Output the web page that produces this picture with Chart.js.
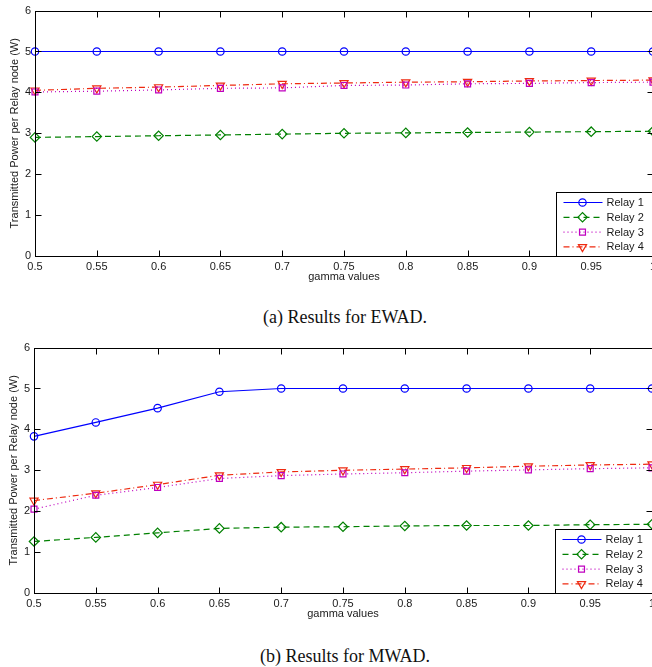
<!DOCTYPE html>
<html>
<head>
<meta charset="utf-8">
<script src="https://cdn.jsdelivr.net/npm/chart.js@4.4.1/dist/chart.umd.min.js"></script>
<style>
  html, body { margin: 0; padding: 0; background: #fff; overflow: hidden; width: 652px; height: 667px; }
  .panel { position: absolute; left: 0; width: 700px; height: 300px; }
  .caption { position: absolute; left: 0; width: 690px; text-align: center;
    font-family: "Liberation Serif", "Times New Roman", serif; font-size: 18px; line-height: 20px; color: #111; }
</style>
</head>
<body>
<div class="panel" style="top:0"><canvas id="ewadChart"></canvas></div>
<div class="caption" style="top:307px">(a) Results for EWAD.</div>
<div class="panel" style="top:337px;left:-1px"><canvas id="mwadChart"></canvas></div>
<div class="caption" style="top:646px">(b) Results for MWAD.</div>
<script>
// x axis: gamma values
const gammaValues = ["0.5", "0.55", "0.6", "0.65", "0.7", "0.75", "0.8", "0.85", "0.9", "0.95", "1"];
const relayNames = ["Relay 1", "Relay 2", "Relay 3", "Relay 4"];

// (a) EWAD
const ewadRelay1 = [5, 5, 5, 5, 5, 5, 5, 5, 5, 5, 5];
const ewadRelay2 = [2.9, 2.92, 2.94, 2.96, 2.98, 3.0, 3.01, 3.02, 3.03, 3.04, 3.05];
const ewadRelay3 = [4.01, 4.03, 4.06, 4.1, 4.11, 4.17, 4.18, 4.21, 4.22, 4.24, 4.25];
const ewadRelay4 = [4.05, 4.1, 4.13, 4.17, 4.21, 4.23, 4.25, 4.26, 4.28, 4.29, 4.3];

// (b) MWAD
const mwadRelay1 = [3.83, 4.17, 4.52, 4.92, 5.0, 5, 5, 5, 5, 5, 5];
const mwadRelay2 = [1.26, 1.36, 1.47, 1.58, 1.61, 1.62, 1.64, 1.65, 1.65, 1.67, 1.68];
const mwadRelay3 = [2.05, 2.39, 2.58, 2.8, 2.87, 2.91, 2.94, 2.98, 3.01, 3.04, 3.06];
const mwadRelay4 = [2.26, 2.44, 2.65, 2.88, 2.96, 3.0, 3.03, 3.06, 3.1, 3.13, 3.15];

const FONT = '"Liberation Sans", Arial, Helvetica, sans-serif';
const INK = "#1a1a1a";

// matlab-ish line specs: b-o, g--d, m:s, r-.v
const styles = [
  { color: "#0000ff", dash: [], point: "circle", radius: 3.7, rotation: 0 },
  { color: "#008000", dash: [6, 4], point: "rectRot", radius: 4.7, rotation: 0 },
  { color: "#bf00bf", dash: [1, 3], point: "rect", radius: 4.2, rotation: 0 },
  { color: "#ee2a10", dash: [6, 3, 1, 3], point: "triangle", radius: 4.7, rotation: 180 }
];

const makeDatasets = (series) => series.map((data, i) => ({
  label: relayNames[i],
  data,
  borderColor: styles[i].color,
  borderWidth: 1.2,
  borderDash: styles[i].dash,
  pointStyle: styles[i].point,
  pointRadius: styles[i].radius,
  pointRotation: styles[i].rotation,
  pointBorderColor: styles[i].color,
  pointBackgroundColor: "rgba(0,0,0,0)",
  pointBorderWidth: 1.2,
  tension: 0,
  fill: false,
  clip: false
}));

// box, inward ticks on all four sides, and the legend in the lower right
const matlabFrame = {
  id: "matlabFrame",
  afterDraw(chart) {
    const { ctx, chartArea: a, scales: { x, y } } = chart;
    const L = Math.round(a.left) + 0.5, R = Math.round(a.right) + 0.5;
    const T = Math.round(a.top) + 0.5, B = Math.round(a.bottom) + 0.5;
    const tl = 6;
    ctx.save();
    ctx.strokeStyle = "#000";
    ctx.lineWidth = 1;
    ctx.setLineDash([]);
    ctx.beginPath();
    x.ticks.forEach((t, i) => {
      const px = Math.round(x.getPixelForTick(i)) + 0.5;
      ctx.moveTo(px, B); ctx.lineTo(px, B - tl);
      ctx.moveTo(px, T); ctx.lineTo(px, T + tl);
    });
    y.ticks.forEach((t) => {
      const py = Math.round(y.getPixelForValue(t.value)) + 0.5;
      ctx.moveTo(L, py); ctx.lineTo(L + tl, py);
      ctx.moveTo(R, py); ctx.lineTo(R - tl, py);
    });
    ctx.stroke();
    ctx.strokeRect(L, T, R - L, B - T);

    // legend
    const lx = Math.round(a.right) - 97 + 0.5;
    const ly = Math.round(a.bottom) - 64 + 0.5;
    ctx.fillStyle = "#fff";
    ctx.fillRect(lx, ly, R - lx, B - ly);
    ctx.strokeRect(lx, ly, R - lx + 10, B - ly);
    chart.data.datasets.forEach((ds, i) => {
      const ey = ly + 10 + i * 14.8;
      ctx.strokeStyle = ds.borderColor;
      ctx.lineWidth = 1.2;
      ctx.setLineDash(ds.borderDash);
      ctx.beginPath();
      ctx.moveTo(lx + 7, ey); ctx.lineTo(lx + 46, ey);
      ctx.stroke();
      ctx.setLineDash([]);
      ctx.fillStyle = "rgba(0,0,0,0)";
      Chart.helpers.drawPoint(ctx, {
        pointStyle: ds.pointStyle, radius: ds.pointRadius,
        rotation: ds.pointRotation, borderWidth: 1.2
      }, lx + 26, ey);
      ctx.fillStyle = INK;
      ctx.font = "11px " + FONT;
      ctx.textBaseline = "middle";
      ctx.textAlign = "left";
      ctx.fillText(ds.label, lx + 50, ey + 0.5);
    });
    ctx.restore();
  }
};

const makeChart = (id, series) => {
  const canvas = document.getElementById(id);
  canvas.width = 700;
  canvas.height = 300;
  canvas.style.width = "700px";
  canvas.style.height = "300px";
  return new Chart(canvas.getContext("2d"), {
    type: "line",
    data: { labels: gammaValues, datasets: makeDatasets(series) },
    options: {
      responsive: false,
      animation: false,
      layout: { padding: { top: 10, right: 47, left: 0, bottom: 0 } },
      plugins: { legend: { display: false }, tooltip: { enabled: false } },
      scales: {
        x: {
          type: "category",
          offset: false,
          grid: { display: false, drawTicks: false },
          border: { display: false },
          ticks: { color: INK, font: { family: FONT, size: 11 }, padding: 4, maxRotation: 0, autoSkip: false },
          title: { display: true, text: "gamma values", color: INK, font: { family: FONT, size: 11 }, padding: { top: 0, bottom: 16 } },
          afterFit: (s) => { s.height = 44; }
        },
        y: {
          min: 0,
          max: 6,
          grid: { display: false, drawTicks: false },
          border: { display: false },
          ticks: { stepSize: 1, color: INK, font: { family: FONT, size: 11 }, padding: 4 },
          title: { display: true, text: "Transmitted Power per Relay node (W)", color: INK, font: { family: FONT, size: 11 }, padding: { top: 8, bottom: 0 } },
          afterFit: (s) => { s.width = 35; }
        }
      }
    },
    plugins: [matlabFrame]
  });
};

makeChart("ewadChart", [ewadRelay1, ewadRelay2, ewadRelay3, ewadRelay4]);
makeChart("mwadChart", [mwadRelay1, mwadRelay2, mwadRelay3, mwadRelay4]);
</script>
</body>
</html>
